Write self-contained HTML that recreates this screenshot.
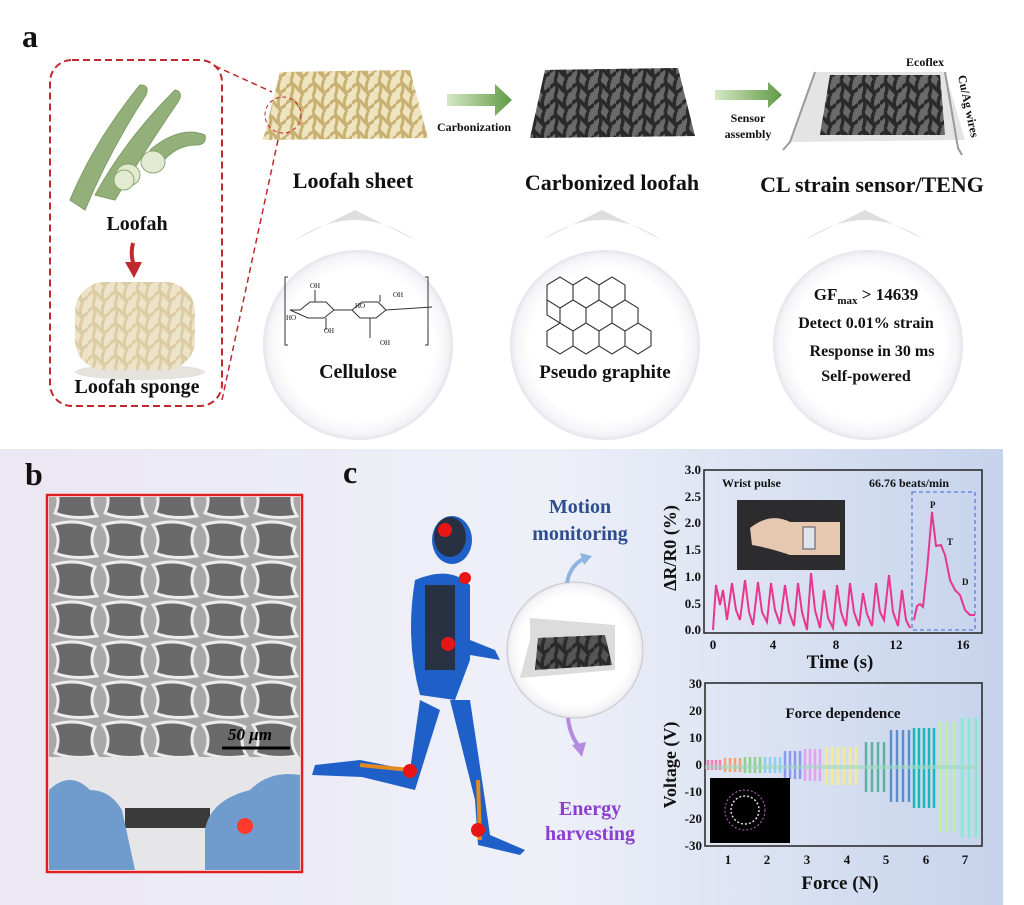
<!DOCTYPE html>
<html><head><meta charset="utf-8"><style>
html,body{margin:0;padding:0;background:#fff}
svg{display:block}
text{font-family:"Liberation Serif",serif;font-weight:bold;fill:#111}
</style></head><body>
<svg width="1024" height="905" viewBox="0 0 1024 905" xmlns="http://www.w3.org/2000/svg">
<defs>
<linearGradient id="bg" x1="0" y1="0" x2="1" y2="0">
<stop offset="0" stop-color="#ebe7f3"/><stop offset="0.55" stop-color="#eef0f8"/><stop offset="1" stop-color="#c6d3ec"/></linearGradient>
<radialGradient id="bub" cx="0.5" cy="0.5" r="0.5">
<stop offset="0.8" stop-color="#ffffff"/><stop offset="0.95" stop-color="#f4f3f6"/><stop offset="1" stop-color="#e6e3ec"/></radialGradient>
<linearGradient id="garr" x1="0" y1="0" x2="1" y2="0"><stop offset="0" stop-color="#d6e8c4"/><stop offset="1" stop-color="#5f9a45"/></linearGradient>
<pattern id="mesh" width="22" height="16" patternUnits="userSpaceOnUse">
<path d="M0 8 Q6 0 11 8 T22 8 M5 0 Q9 8 5 16 M16 0 Q12 8 17 16" fill="none" stroke="#2a2a2a" stroke-width="3.5"/></pattern>
<pattern id="meshy" width="22" height="16" patternUnits="userSpaceOnUse">
<rect width="22" height="16" fill="#efe4c0"/>
<path d="M0 8 Q6 0 11 8 T22 8 M5 0 Q9 8 5 16 M16 0 Q12 8 17 16" fill="none" stroke="#c8b070" stroke-width="3"/></pattern>
<pattern id="sem" width="50" height="40" patternUnits="userSpaceOnUse">
<rect width="50" height="40" fill="#a8a8a8"/>
<path d="M3 5 Q25 -2 45 7 Q38 22 47 36 Q22 40 5 33 Q12 18 3 5Z" fill="#6a6a6a" stroke="#ececec" stroke-width="3"/></pattern>
</defs>

<!-- Panel a -->
<text x="22" y="47" font-size="32">a</text>
<rect x="50" y="60" width="172" height="346" rx="22" fill="none" stroke="#c0282d" stroke-width="2" stroke-dasharray="7,4"/>
<line x1="215" y1="66" x2="272" y2="92" stroke="#c0282d" stroke-width="1.5" stroke-dasharray="6,4"/>
<line x1="222" y1="400" x2="278" y2="140" stroke="#c0282d" stroke-width="1.5" stroke-dasharray="6,4"/>
<g fill="#93b07a" stroke="#7f9c66">
<path d="M70 200 Q95 140 140 85 Q150 85 146 95 Q110 150 85 210Z"/>
<path d="M95 195 Q125 140 175 90 Q184 92 178 102 Q145 150 115 200Z"/>
<path d="M150 150 Q180 125 205 135 Q207 145 196 145 Q175 145 160 165Z"/>
</g>
<ellipse cx="128" cy="175" rx="12" ry="11" fill="#e2ead2" stroke="#8aa86e"/>
<ellipse cx="153" cy="162" rx="12" ry="11" fill="#e2ead2" stroke="#8aa86e"/>
<ellipse cx="124" cy="180" rx="10" ry="10" fill="#e2ead2" stroke="#8aa86e"/>
<text x="137" y="230" font-size="20" text-anchor="middle">Loofah</text>
<path d="M133 243 Q130 255 134 265" stroke="#c0282d" stroke-width="4" fill="none"/><path d="M125 262 L134 278 L142 262Z" fill="#c0282d"/>
<ellipse cx="140" cy="372" rx="65" ry="8" fill="#e6e3de"/>
<rect x="75" y="282" width="120" height="88" rx="30" fill="#ece3cf"/>
<rect x="75" y="282" width="120" height="88" rx="30" fill="url(#meshy)" opacity="0.45"/>
<text x="137" y="393" font-size="20" text-anchor="middle">Loofah sponge</text>

<path d="M280 72 L410 70 L428 138 L263 140Z" fill="url(#meshy)"/>
<circle cx="283" cy="115" r="18" fill="none" stroke="#c0282d" stroke-dasharray="4,3"/>
<text x="353" y="188" font-size="22" text-anchor="middle">Loofah sheet</text>
<path d="M447 94 L495 94 L495 84 L512 100 L495 116 L495 106 L447 106Z" fill="url(#garr)"/>
<text x="474" y="131" font-size="12" text-anchor="middle">Carbonization</text>
<path d="M545 70 L678 68 L695 136 L530 138Z" fill="#6a6a6a"/>
<path d="M545 70 L678 68 L695 136 L530 138Z" fill="url(#mesh)"/>
<text x="612" y="190" font-size="22" text-anchor="middle">Carbonized loofah</text>
<path d="M715 90 L768 90 L768 82 L782 95 L768 108 L768 100 L715 100Z" fill="url(#garr)"/>
<text x="748" y="122" font-size="12" text-anchor="middle">Sensor</text>
<text x="748" y="138" font-size="12" text-anchor="middle">assembly</text>
<path d="M815 72 L945 72 L965 140 L790 142Z" fill="#e4e4e4"/>
<path d="M815 72 L790 142 L783 150 M945 72 L958 148 L962 155" stroke="#9a9a9a" stroke-width="2" fill="none"/>
<path d="M830 75 L940 75 L945 135 L820 135Z" fill="#6a6a6a"/>
<path d="M830 75 L940 75 L945 135 L820 135Z" fill="url(#mesh)"/>
<text x="925" y="66" font-size="12" text-anchor="middle">Ecoflex</text>
<text x="0" y="0" font-size="12" transform="translate(958,76) rotate(78)">Cu/Ag wires</text>
<text x="872" y="192" font-size="22" text-anchor="middle">CL strain sensor/TENG</text>

<g>
<path d="M295 240 Q355 200 415 240 L355 210Z" fill="#d0d0d0" opacity="0.7"/>
<circle cx="358" cy="345" r="95" fill="url(#bub)"/>
<path d="M542 240 Q602 200 662 240 L602 210Z" fill="#d0d0d0" opacity="0.7"/>
<circle cx="605" cy="345" r="95" fill="url(#bub)"/>
<path d="M805 240 Q865 200 925 240 L865 210Z" fill="#d0d0d0" opacity="0.7"/>
<circle cx="868" cy="345" r="95" fill="url(#bub)"/>
</g>
<g stroke="#333" fill="none" stroke-width="1">
<path d="M288 277 L285 277 L285 345 L288 345 M425 277 L428 277 L428 345 L425 345"/>
<path d="M290 310 L300 310 l10 -8 l16 0 l8 8 l-10 8 l-16 0Z M334 310 L352 310 M352 310 l10 -8 l16 0 l8 8 l-10 8 l-16 0Z M386 310 L432 307"/>
<path d="M315 302 L315 290 M326 318 L326 330 M380 302 L380 295 M370 318 L370 338"/>
</g>
<g font-size="7"><text x="310" y="288" style="font-weight:normal">OH</text><text x="286" y="320" style="font-weight:normal">HO</text><text x="324" y="333" style="font-weight:normal">OH</text><text x="355" y="308" style="font-weight:normal">HO</text><text x="393" y="297" style="font-weight:normal">OH</text><text x="380" y="345" style="font-weight:normal">OH</text></g>
<text x="358" y="378" font-size="20" text-anchor="middle">Cellulose</text>
<g stroke="#333" fill="none" stroke-width="1.1">
<path d="M547 285 l13 -8 l13 8 v15 l-13 8 l-13 -8Z M573 285 l13 -8 l13 8 v15 l-13 8 l-13 -8Z M599 285 l13 -8 l13 8 v15 l-13 8 l-13 -8Z
M560 308 l13 -8 l13 8 v15 l-13 8 l-13 -8Z M586 308 l13 -8 l13 8 v15 l-13 8 l-13 -8Z M612 308 l13 -8 l13 8 v15 l-13 8 l-13 -8Z M547 300 v15 l13 8
M547 331 l13 -8 l13 8 v15 l-13 8 l-13 -8Z M573 331 l13 -8 l13 8 v15 l-13 8 l-13 -8Z M599 331 l13 -8 l13 8 v15 l-13 8 l-13 -8Z M625 331 l13 -8 l13 8 v15 l-13 8 l-13 -8Z"/>
</g>
<text x="605" y="378" font-size="19" text-anchor="middle">Pseudo graphite</text>
<text x="866" y="300" font-size="17" text-anchor="middle">GF<tspan font-size="11" dy="4">max</tspan><tspan dy="-4"> &gt; 14639</tspan></text>
<text x="866" y="328" font-size="16" text-anchor="middle">Detect 0.01% strain</text>
<text x="872" y="356" font-size="16" text-anchor="middle">Response in 30 ms</text>
<text x="866" y="381" font-size="16" text-anchor="middle">Self-powered</text>

<rect x="0" y="449" width="1003" height="456" fill="url(#bg)"/>
<text x="25" y="485" font-size="32">b</text>
<text x="343" y="483" font-size="32">c</text>
<rect x="47" y="495" width="255" height="377" fill="#fff" stroke="#e02020" stroke-width="2.5"/>
<rect x="49" y="497" width="251" height="260" fill="url(#sem)"/>
<text x="228" y="740" font-size="17" font-style="italic" style="fill:#000">50 μm</text>
<line x1="222" y1="748" x2="290" y2="748" stroke="#000" stroke-width="3"/>
<rect x="49" y="757" width="251" height="113" fill="#e6e6e8"/>
<rect x="125" y="808" width="85" height="20" fill="#3a3a3a"/>
<path d="M49 790 Q70 770 90 790 Q110 790 122 810 L135 870 L49 870Z" fill="#6f9ccc"/>
<path d="M300 775 Q270 770 250 790 Q210 800 205 830 L205 870 L300 870Z" fill="#6f9ccc"/>
<circle cx="245" cy="826" r="8" fill="#ff3a2a"/>

<g fill="#1f5fc8">
<ellipse cx="452" cy="540" rx="20" ry="24"/>
<path d="M415 580 Q450 565 470 585 L470 660 L455 700 L420 695 Q405 640 415 580Z"/>
<path d="M470 640 L495 650 L500 660 L470 655Z"/>
<path d="M420 700 L410 770 L360 760 L315 765 L312 775 L362 777 L415 790 L440 710Z"/>
<path d="M450 700 L475 800 L478 845 L520 855 L525 850 L490 835 L485 800 L470 700Z"/>
</g>
<g fill="#2a2a2a" opacity="0.85"><ellipse cx="450" cy="537" rx="16" ry="20"/><path d="M425 585 L455 585 L455 670 L425 670Z"/></g>
<path d="M410 770 L360 765 M478 780 L480 840" stroke="#e08a20" stroke-width="4"/>
<g fill="#e81515"><circle cx="445" cy="530" r="7"/><circle cx="465" cy="578" r="6"/><circle cx="448" cy="644" r="7"/><circle cx="410" cy="771" r="7"/><circle cx="478" cy="830" r="7"/></g>
<circle cx="575" cy="650" r="68" fill="url(#bub)" stroke="#c8c8c8"/>
<path d="M530 640 L530 618 L615 625 L615 670 L520 678 Z" fill="#dcdcdc"/>
<path d="M538 638 L605 635 L612 665 L535 670Z" fill="#555"/><path d="M538 638 L605 635 L612 665 L535 670Z" fill="url(#mesh)"/>
<text x="580" y="513" font-size="20" text-anchor="middle" style="fill:#2e4e8f">Motion</text>
<text x="580" y="540" font-size="20" text-anchor="middle" style="fill:#2e4e8f">monitoring</text>
<path d="M567 583 Q570 565 585 558" stroke="#8fb4e0" stroke-width="4" fill="none"/>
<path d="M580 553 L592 556 L584 565Z" fill="#8fb4e0"/>
<path d="M568 718 Q570 735 578 745" stroke="#b58be0" stroke-width="4" fill="none"/>
<path d="M572 745 L582 757 L586 742Z" fill="#b58be0"/>
<text x="590" y="815" font-size="20" text-anchor="middle" style="fill:#8a3fd0">Energy</text>
<text x="590" y="840" font-size="20" text-anchor="middle" style="fill:#8a3fd0">harvesting</text>

<rect x="704" y="470" width="278" height="163" fill="none" stroke="#222" stroke-width="1.5"/>
<g font-size="13" text-anchor="end">
<text x="701" y="474">3.0</text><text x="701" y="501">2.5</text><text x="701" y="527">2.0</text><text x="701" y="554">1.5</text><text x="701" y="581">1.0</text><text x="701" y="608">0.5</text><text x="701" y="634">0.0</text></g>
<g font-size="13" text-anchor="middle">
<text x="713" y="649">0</text><text x="773" y="649">4</text><text x="836" y="649">8</text><text x="896" y="649">12</text><text x="963" y="649">16</text></g>
<text font-size="18" text-anchor="middle" transform="translate(676,548) rotate(-90)">ΔR/R0 (%)</text>
<text x="840" y="668" font-size="19" text-anchor="middle">Time (s)</text>
<text x="722" y="487" font-size="12">Wrist pulse</text>
<text x="869" y="487" font-size="12">66.76 beats/min</text>
<rect x="737" y="500" width="108" height="70" fill="#2c2c2e"/>
<path d="M750 528 Q770 512 790 522 L840 522 L840 555 L790 555 Q770 548 752 545Z" fill="#e6c8b0"/>
<rect x="803" y="527" width="12" height="22" fill="#dfe3ea" stroke="#556"/>
<polyline fill="none" stroke="#e8368f" stroke-width="2" points="713,630 716,585 720,605 723,590 727,620 732,583 736,610 740,620 745,580 749,612 753,625 758,582 762,612 767,622 771,583 775,610 780,624 785,585 789,612 794,626 798,583 802,612 807,630 811,573 815,610 820,628 824,590 828,618 833,628 837,585 841,612 846,626 850,583 854,612 859,626 863,593 867,614 872,626 876,583 880,612 884,620 889,575 893,612 898,626 902,590 906,620 910,628"/>
<rect x="912" y="492" width="63" height="138" fill="none" stroke="#5b7fe0" stroke-dasharray="4,3" stroke-width="1.3"/>
<polyline fill="none" stroke="#e8368f" stroke-width="2" points="914,620 917,606 920,604 923,607 927,570 932,512 936,546 941,545 945,555 950,580 955,590 960,595 965,610 970,615 975,615"/>
<text x="930" y="508" font-size="9">P</text><text x="947" y="545" font-size="9">T</text><text x="962" y="585" font-size="9">D</text>

<rect x="705" y="683" width="277" height="163" fill="none" stroke="#222" stroke-width="1.5"/>
<g font-size="13" text-anchor="end">
<text x="702" y="688">30</text><text x="702" y="715">20</text><text x="702" y="742">10</text><text x="702" y="769">0</text><text x="702" y="796">-10</text><text x="702" y="823">-20</text><text x="702" y="850">-30</text></g>
<g font-size="13" text-anchor="middle">
<text x="728" y="864">1</text><text x="767" y="864">2</text><text x="807" y="864">3</text><text x="847" y="864">4</text><text x="886" y="864">5</text><text x="926" y="864">6</text><text x="965" y="864">7</text></g>
<text font-size="18" text-anchor="middle" transform="translate(676,765) rotate(-90)">Voltage (V)</text>
<text x="840" y="889" font-size="19" text-anchor="middle">Force (N)</text>
<text x="843" y="718" font-size="15" text-anchor="middle">Force dependence</text>
<g stroke-width="2.5">
<g stroke="#f27ab0"><path d="M708 760 v10 M712 760 v10 M716 760 v10 M720 760 v10"/></g>
<g stroke="#f5a070"><path d="M725 758 v14 M730 758 v14 M735 758 v14 M740 758 v14"/></g>
<g stroke="#8fd08a"><path d="M745 757 v16 M750 757 v16 M755 757 v16 M760 757 v16"/></g>
<g stroke="#8ccff0"><path d="M765 757 v16 M770 757 v16 M775 757 v16 M780 757 v16"/></g>
<g stroke="#8a9af0"><path d="M785 751 v28 M790 751 v28 M795 751 v28 M800 751 v28"/></g>
<g stroke="#e7a0ef"><path d="M805 749 v32 M810 749 v32 M815 749 v32 M820 749 v32"/></g>
<g stroke="#f5ec90"><path d="M826 747 v38 M832 747 v38 M838 747 v38 M844 747 v38 M850 747 v38 M856 747 v38"/></g>
<g stroke="#5fb0a0"><path d="M866 742 v50 M872 742 v50 M878 742 v50 M884 742 v50"/></g>
<g stroke="#5a8fcf"><path d="M891 730 v72 M897 730 v72 M903 730 v72 M909 730 v72"/></g>
<g stroke="#19b8b8"><path d="M914 728 v80 M919 728 v80 M924 728 v80 M929 728 v80 M934 728 v80"/></g>
<g stroke="#b8f5a0"><path d="M940 722 v110 M947 722 v110 M954 722 v110"/></g>
<g stroke="#80ecd0"><path d="M962 718 v120 M969 718 v120 M976 718 v120"/></g>
</g>
<rect x="705" y="765" width="272" height="4" fill="#9fd8c0" opacity="0.6"/>
<rect x="710" y="778" width="80" height="65" fill="#000"/>
<circle cx="745" cy="810" r="14" fill="none" stroke="#ddd" stroke-width="1.5" stroke-dasharray="2,2"/>
<circle cx="745" cy="810" r="20" fill="none" stroke="#c060d0" stroke-width="1" stroke-dasharray="2,2"/>
</svg>
</body></html>
